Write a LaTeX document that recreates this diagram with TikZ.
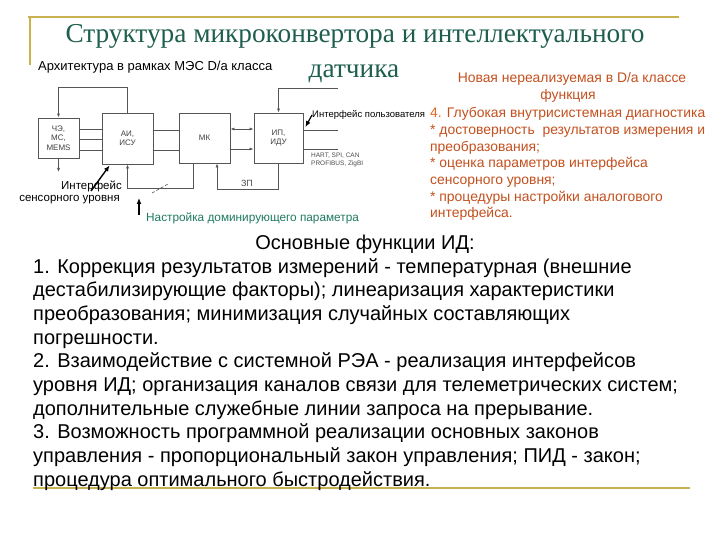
\documentclass[tikz,border=0pt]{standalone}
\usepackage{fontspec}
\setmainfont{Liberation Sans}
\newfontfamily\titlefont{Liberation Serif}
\usetikzlibrary{arrows.meta}
\definecolor{framegold}{HTML}{C9B24E}
\definecolor{titlegreen}{HTML}{1E5E4E}
\definecolor{tealtext}{HTML}{1F7A60}
\definecolor{orangetext}{HTML}{C4501E}
\definecolor{orangebright}{HTML}{E2661E}
\definecolor{wiregray}{HTML}{555555}
\tikzset{
  blk/.style={draw=wiregray, line width=0.8pt, inner sep=0pt, align=center,
    font=\fontsize{8}{9.5}\selectfont, text=black!75},
  wire/.style={draw=wiregray, line width=0.7pt},
  wtip/.style={-{Latex[length=4pt,width=3pt]}},
  bigarrow/.style={draw=black, line width=1.4pt, -{Latex[length=6pt,width=5pt]}},
  frameline/.style={draw=framegold, line width=1.8pt},
  maintext/.style={anchor=base west, inner sep=0pt, font=\fontsize{20}{24}\selectfont, text=black},
  orangeline/.style={anchor=base west, inner sep=0pt, font=\fontsize{13.9}{17}\selectfont, text=orangetext},
  smalllbl/.style={inner sep=0pt, font=\fontsize{7}{8}\selectfont, text=black!70}
}
\begin{document}
\begin{tikzpicture}[x=1pt,y=-1pt]
\useasboundingbox (0,0) rectangle (720,540);
\fill[white] (0,0) rectangle (720,540);

% frame lines
\coordinate (ftl) at (30,17);
\coordinate (ftr) at (679,17);
\coordinate (flb) at (30,65);
\draw[frameline] (28,17) -- (ftr);
\draw[frameline] (ftl) -- (flb);
\coordinate (ubl) at (33,488);
\coordinate (ubr) at (690,488);
\draw[frameline, line width=1.5pt] (ubl) -- (ubr);

% title
\node[anchor=base, inner sep=0pt, text=titlegreen, font=\titlefont\fontsize{27.3}{30}\selectfont] (title1) at (355,43) {Структура микроконвертора и интеллектуального};
\node[anchor=base, inner sep=0pt, text=titlegreen, font=\titlefont\fontsize{27.3}{30}\selectfont] (title2) at (354,78) {датчика};

\node[anchor=base west, inner sep=0pt, font=\fontsize{13}{14}\selectfont] (arch) at (38,71) {Архитектура в рамках МЭС D/a класса};

% blocks
\node[blk, minimum width=41pt, minimum height=40pt] (che) at (58.5,138) {ЧЭ,\\МС,\\MEMS};
\node[blk, minimum width=51pt, minimum height=51pt] (ai) at (127.5,138.5) {АИ,\\ИСУ};
\node[blk, minimum width=51pt, minimum height=50pt] (mk) at (204.5,138) {МК};
\node[blk, minimum width=49pt, minimum height=50pt] (ip) at (278.5,138) {ИП,\\ИДУ};

% feedback AI -> CHE
\draw[wire, wtip] (ai.north) -- ++(0,-25) -| (che.north);
\coordinate (cheout) at (58.5,172);
\draw[wire, wtip] (che.south) -- (cheout);

% CHE -> AI three lines
\foreach \yy in {129,139,150} {
  \draw[wire] (che.east |- 0,\yy) -- (ai.west |- 0,\yy);
}
% AI -> MK
\foreach \yy in {130,150} {
  \draw[wire] (ai.east |- 0,\yy) -- (mk.west |- 0,\yy);
}
% MK <-> IP
\draw[wire, {Latex[length=4pt,width=3pt]}-{Latex[length=4pt,width=3pt]}] (mk.east |- 0,129) -- (ip.west |- 0,129);
\draw[wire, wtip] (mk.east |- 0,149) -- (ip.west |- 0,149);

% IP top input
\coordinate (iptopin) at (338,88);
\draw[wire, wtip] (iptopin) -| (ip.north);
% IP right lines
\coordinate (ipr1) at (338,130);
\coordinate (ipr2) at (338,149);
\draw[wire] (ip.east |- ipr1) -- (ipr1);
\draw[wire] (ip.east |- ipr2) -- (ipr2);

% IP -> MK bottom (ZP)
\draw[wire, wtip] (ip.south) -- ++(0,26) -| ([xshift=12.5pt]mk.south);
\node[smalllbl, font=\fontsize{9}{10}\selectfont] (zp) at (247,183) {ЗП};

% MK -> AI bottom
\draw[wire, wtip] ([xshift=-11.5pt]mk.south) -- ++(0,25) -| (ai.south);
\coordinate (slashA) at (152,193);
\coordinate (slashB) at (168,184);
\draw[wire, dashed, dash pattern=on 3pt off 2pt, line width=0.6pt] (slashA) -- (slashB);

% labels
\node[anchor=base east, inner sep=0pt, font=\fontsize{11.5}{13}\selectfont] (sens1) at (122,190) {Интерфейс};
\node[anchor=base east, inner sep=0pt, font=\fontsize{11.5}{13}\selectfont] (sens2) at (120,202) {сенсорного уровня};
\coordinate (sensarrow) at (91,191);
\draw[bigarrow] (sensarrow) -- ([xshift=8pt,yshift=-1pt]ai.south west);

\node[anchor=base west, inner sep=0pt, text=tealtext, font=\fontsize{11.8}{13}\selectfont] (nastr) at (146,222) {Настройка доминирующего параметра};
\coordinate (nastrarrow) at (139,215);
\coordinate (nastrhead) at (139,198);
\draw[bigarrow] (nastrarrow) -- (nastrhead);

\node[anchor=west, inner sep=0pt, font=\fontsize{9.5}{11}\selectfont] (user) at (312,115) {Интерфейс пользователя};
\draw[bigarrow, line width=1.2pt] (user.west) -- ([yshift=11pt,xshift=2pt]ip.east);

\node[smalllbl, anchor=west, font=\fontsize{6.5}{7}\selectfont] (hart) at (311,156) {HART, SPI, CAN};
\node[smalllbl, anchor=west, font=\fontsize{6.5}{7}\selectfont] (profi) at (311,164) {PROFIBUS, ZigBI};

% orange text
\node[anchor=base, inner sep=0pt, text=orangetext, font=\fontsize{13.9}{15}\selectfont] (new1) at (572,83) {Новая нереализуемая в D/a классе};
\node[anchor=base, inner sep=0pt, text=orangetext, font=\fontsize{13.9}{15}\selectfont] (new2) at (568,100) {функция};
\node[orangeline] (o1) at (430,118) {\textcolor{orangebright}{4.} Глубокая внутрисистемная диагностика};
\node[orangeline] (o2) at (430,135) {* достоверность \ результатов измерения и};
\node[orangeline] (o3) at (430,152) {преобразования;};
\node[orangeline] (o4) at (430,168) {* оценка параметров интерфейса};
\node[orangeline] (o5) at (430,185) {сенсорного уровня;};
\node[orangeline] (o6) at (430,202) {* процедуры настройки аналогового};
\node[orangeline] (o7) at (430,218) {интерфейса.};

% main text
\node[anchor=base, inner sep=0pt, font=\fontsize{20}{24}\selectfont] (head) at (365,249) {Основные функции ИД:};
\node[maintext] (m1) at (33,273) {1. Коррекция результатов измерений - температурная (внешние};
\node[maintext] (m2) at (33,296.7) {дестабилизирующие факторы); линеаризация характеристики};
\node[maintext] (m3) at (33,320.4) {преобразования; минимизация случайных составляющих};
\node[maintext] (m4) at (33,344.1) {погрешности.};
\node[maintext] (m5) at (33,367.8) {2. Взаимодействие с системной РЭА - реализация интерфейсов};
\node[maintext] (m6) at (33,391.5) {уровня ИД; организация каналов связи для телеметрических систем;};
\node[maintext] (m7) at (33,415.2) {дополнительные служебные линии запроса на прерывание.};
\node[maintext] (m8) at (33,438.9) {3. Возможность программной реализации основных законов};
\node[maintext] (m9) at (33,462.6) {управления - пропорциональный закон управления; ПИД - закон;};
\node[maintext] (m10) at (33,486.3) {процедура оптимального быстродействия.};
\end{tikzpicture}
\end{document}
